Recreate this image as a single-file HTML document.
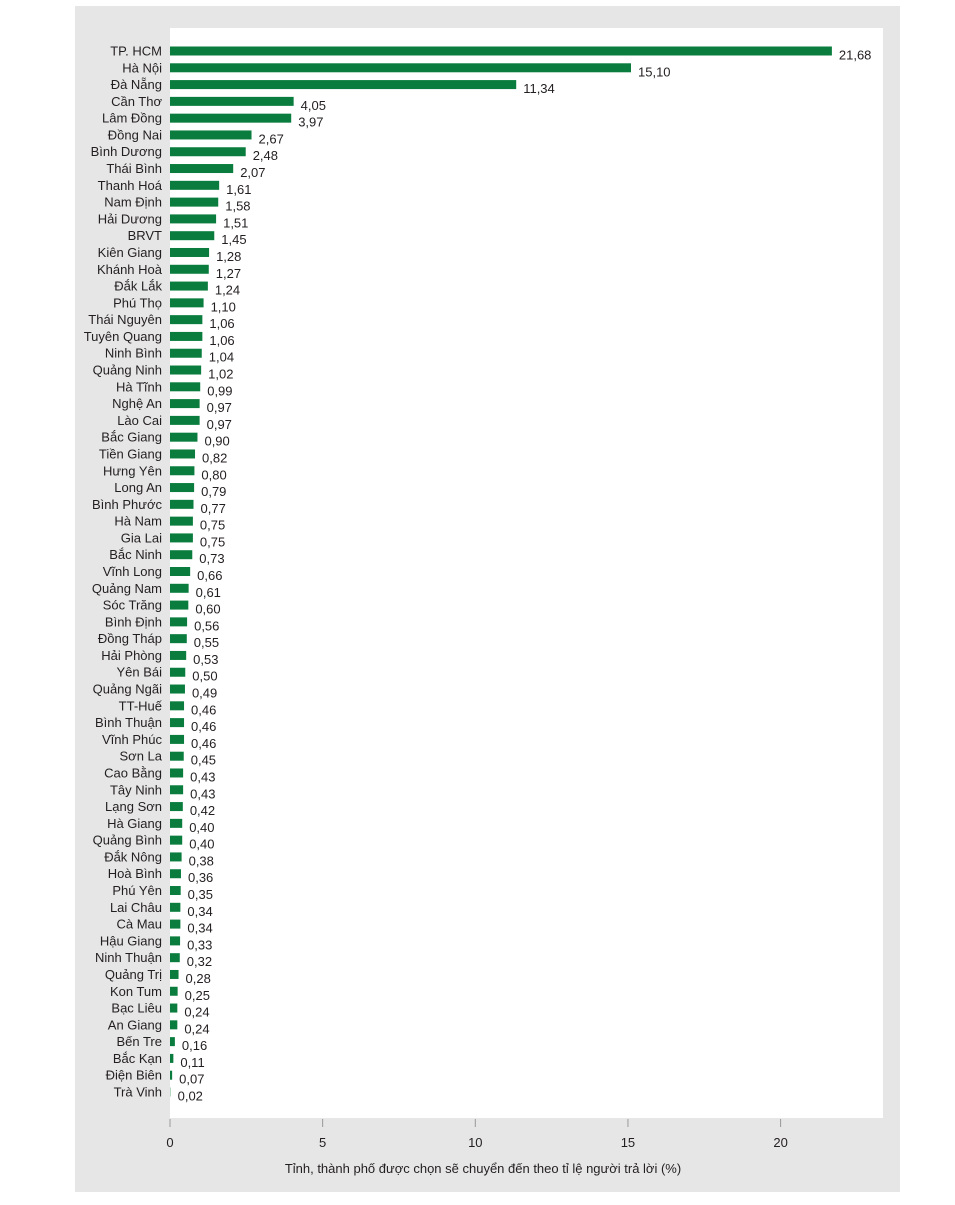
<!DOCTYPE html>
<html><head><meta charset="utf-8">
<style>
body{margin:0;background:#fff;width:955px;height:1200px;overflow:hidden;font-family:"Liberation Sans","DejaVu Sans",sans-serif;}
svg text{font-family:"Liberation Sans","DejaVu Sans",sans-serif;}
</style></head>
<body>
<svg id="chart" width="955" height="1200" xmlns="http://www.w3.org/2000/svg">
<rect x="75" y="6" width="825" height="1186" fill="#e6e6e7"/>
<rect x="170" y="28" width="713" height="1090" fill="#fff"/>
<g id="bars"></g>
<g id="axis"></g>
<text x="483" y="1173" font-size="13" text-anchor="middle" fill="#231f20">Tỉnh, thành phố được chọn sẽ chuyển đến theo tỉ lệ người trả lời (%)</text>
</svg>
<script>
const categories=["TP. HCM","Hà Nội","Đà Nẵng","Cần Thơ","Lâm Đồng","Đồng Nai","Bình Dương","Thái Bình","Thanh Hoá","Nam Định","Hải Dương","BRVT","Kiên Giang","Khánh Hoà","Đắk Lắk","Phú Thọ","Thái Nguyên","Tuyên Quang","Ninh Bình","Quảng Ninh","Hà Tĩnh","Nghệ An","Lào Cai","Bắc Giang","Tiền Giang","Hưng Yên","Long An","Bình Phước","Hà Nam","Gia Lai","Bắc Ninh","Vĩnh Long","Quảng Nam","Sóc Trăng","Bình Định","Đồng Tháp","Hải Phòng","Yên Bái","Quảng Ngãi","TT-Huế","Bình Thuận","Vĩnh Phúc","Sơn La","Cao Bằng","Tây Ninh","Lạng Sơn","Hà Giang","Quảng Bình","Đắk Nông","Hoà Bình","Phú Yên","Lai Châu","Cà Mau","Hậu Giang","Ninh Thuận","Quảng Trị","Kon Tum","Bạc Liêu","An Giang","Bến Tre","Bắc Kạn","Điện Biên","Trà Vinh"];
const values=[21.68,15.10,11.34,4.05,3.97,2.67,2.48,2.07,1.61,1.58,1.51,1.45,1.28,1.27,1.24,1.10,1.06,1.06,1.04,1.02,0.99,0.97,0.97,0.90,0.82,0.80,0.79,0.77,0.75,0.75,0.73,0.66,0.61,0.60,0.56,0.55,0.53,0.50,0.49,0.46,0.46,0.46,0.45,0.43,0.43,0.42,0.40,0.40,0.38,0.36,0.35,0.34,0.34,0.33,0.32,0.28,0.25,0.24,0.24,0.16,0.11,0.07,0.02];
const ticks=[0,5,10,15,20];
const NS="http://www.w3.org/2000/svg";
const x=v=>170+v*30.53;
const yC=i=>51+i*(1092-51)/(categories.length-1);
const bars=document.getElementById('bars'),axis=document.getElementById('axis');
function mk(tag,attrs,parent){const e=document.createElementNS(NS,tag);for(const k in attrs)e.setAttribute(k,attrs[k]);parent.appendChild(e);return e;}
categories.forEach((c,i)=>{
  const y=yC(i);
  const r=mk('rect',{x:170,y:y-4.5,width:Math.max(x(values[i])-170,1),height:9,fill:values[i]<0.05?'#b5d8c2':'#0a7d3e'},bars);
  
  
  const t=mk('text',{x:162,y:y+4.5,'font-size':13,'text-anchor':'end',fill:'#231f20'},bars);t.textContent=c;
  
  
  const v=mk('text',{x:x(values[i])+7,y:y+8.5,'font-size':13,fill:'#231f20'},bars);v.textContent=values[i].toFixed(2).replace('.',',');
  
  
});
ticks.forEach(t=>{
  const l=mk('line',{x1:x(t),x2:x(t),y1:1119,y2:1127,stroke:'#999','stroke-width':1},axis);
  
  
  const tx=mk('text',{x:x(t),y:1147,'font-size':13,'text-anchor':'middle',fill:'#231f20'},axis);tx.textContent=t;
  
  
});
</script>
</body></html>
